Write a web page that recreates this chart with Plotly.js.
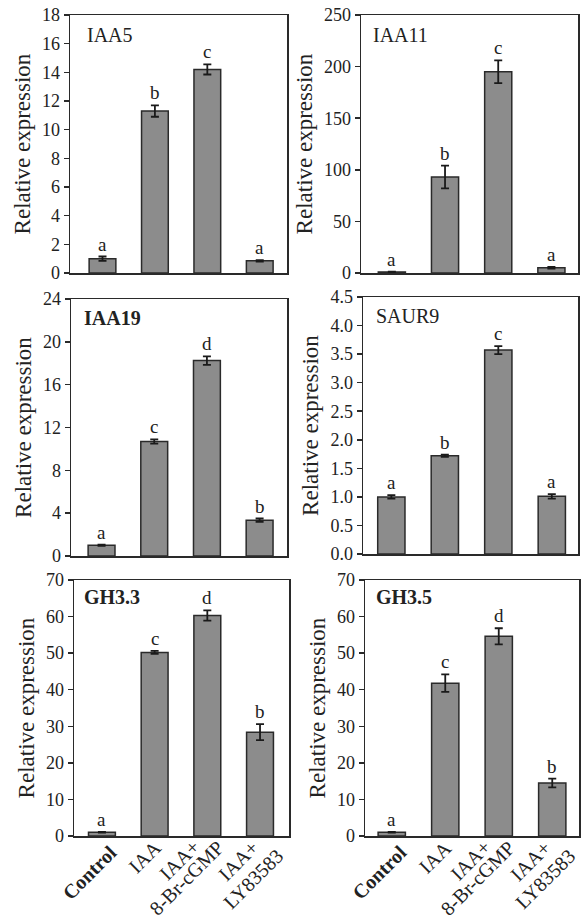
<!DOCTYPE html>
<html>
<head>
<meta charset="utf-8">
<script src="https://cdn.plot.ly/plotly-3.0.1.min.js"></script>
<style>html,body{margin:0;padding:0;background:#fff;}#chart{width:583px;height:922px;}</style>
</head>
<body>
<div id="chart"></div>
<script>
const categories = ["Control", "IAA", "IAA+ 8-Br-cGMP", "IAA+ LY83583"];
// tick labels, one list of text lines per category
const tickLabelLines = [["<b>Control</b>"], ["IAA"], ["IAA+", "8-Br-cGMP"], ["IAA+", "LY83583"]];

const genes = ["IAA5", "IAA11", "IAA19", "SAUR9", "GH3.3", "GH3.5"];
const IAA5_values = [1.0, 11.3, 14.2, 0.85];
const IAA5_errors = [0.15, 0.4, 0.35, 0.05];
const IAA5_letters = ["a", "b", "c", "a"];
const IAA11_values = [1.0, 93, 195, 5];
const IAA11_errors = [0.3, 11, 11, 0.8];
const IAA11_letters = ["a", "b", "c", "a"];
const IAA19_values = [1.0, 10.7, 18.25, 3.35];
const IAA19_errors = [0.05, 0.2, 0.4, 0.15];
const IAA19_letters = ["a", "c", "d", "b"];
const SAUR9_values = [1.0, 1.72, 3.57, 1.01];
const SAUR9_errors = [0.03, 0.02, 0.07, 0.04];
const SAUR9_letters = ["a", "b", "c", "a"];
const GH33_values = [1.0, 50.2, 60.3, 28.4];
const GH33_errors = [0.1, 0.4, 1.4, 2.2];
const GH33_letters = ["a", "c", "d", "b"];
const GH35_values = [1.0, 41.8, 54.6, 14.5];
const GH35_errors = [0.1, 2.4, 2.2, 1.2];
const GH35_letters = ["a", "c", "d", "b"];

const yMax = [18, 250, 24, 4.5, 70, 70];
const yDtick = [2, 50, 4, 0.5, 10, 10];

const W = 583, H = 922;
// pixel boxes [left, right, top, bottom]
const boxes = [
  [70, 287, 15, 273],
  [361, 578, 15, 273],
  [71, 287, 299, 556],
  [363, 578, 297, 554],
  [74, 289, 580, 836],
  [365, 579, 580, 836]
];
const xRanges = [
  [-0.62, 3.52], [-0.58, 3.5], [-0.58, 3.52], [-0.53, 3.49], [-0.53, 3.55], [-0.5, 3.5]
];
const geneLabelShift = [[15, -20], [10, -20], [11, -19], [11, -19], [8, -17], [9, -17]];
// pixel offsets of each tick-label line centre from its tick on the axis
const tickLineOffsets = [[[-12, 36]], [[-10, 21]], [[-28, 24], [-21, 42]], [[-22, 25], [-7, 43]]];

const series = [
  [IAA5_values, IAA5_errors, IAA5_letters],
  [IAA11_values, IAA11_errors, IAA11_letters],
  [IAA19_values, IAA19_errors, IAA19_letters],
  [SAUR9_values, SAUR9_errors, SAUR9_letters],
  [GH33_values, GH33_errors, GH33_letters],
  [GH35_values, GH35_errors, GH35_letters]
];
const boldLabel = [false, false, true, false, true, true];

const FONT = "Liberation Serif";
const INK = "#222";
const data = [];
const layout = {
  width: W, height: H,
  margin: {l: 0, r: 0, t: 0, b: 0},
  paper_bgcolor: "#fff", plot_bgcolor: "#fff",
  showlegend: false,
  font: {family: FONT, color: INK, size: 18},
  annotations: []
};

series.forEach((s, i) => {
  const n = i + 1;
  const xa = "x" + (n === 1 ? "" : n), ya = "y" + (n === 1 ? "" : n);
  const xk = "xaxis" + (n === 1 ? "" : n), yk = "yaxis" + (n === 1 ? "" : n);
  const b = boxes[i];
  data.push({
    type: "bar", x: [0, 1, 2, 3], y: s[0], xaxis: xa, yaxis: ya,
    width: 0.51, name: genes[i],
    marker: {color: "#8c8c8c", line: {color: "#2a2a2a", width: 1.5}},
    error_y: {type: "data", array: s[1], visible: true, color: "#1a1a1a", thickness: 1.8, width: 4}
  });
  layout[xk] = {
    domain: [b[0] / W, b[1] / W], range: xRanges[i], anchor: ya,
    tickmode: "array", tickvals: [0, 1, 2, 3], ticktext: categories,
    showticklabels: false, ticks: "",
    showline: true, linecolor: "#2a2a2a", linewidth: 1.5, mirror: true,
    showgrid: false, zeroline: false, fixedrange: true
  };
  layout[yk] = {
    domain: [1 - b[3] / H, 1 - b[2] / H], range: [0, yMax[i]], anchor: xa,
    dtick: yDtick[i], tick0: 0, tickformat: i === 3 ? ".1f" : "",
    ticks: "outside", ticklen: 5, tickwidth: 1.5, tickcolor: "#2a2a2a",
    tickfont: {family: FONT, size: 18, color: INK},
    showline: true, linecolor: "#2a2a2a", linewidth: 1.5, mirror: true,
    showgrid: false, zeroline: false, fixedrange: true,
    title: {text: "Relative expression", font: {family: FONT, size: 23, color: INK}, standoff: 5}
  };
  layout.annotations.push({
    xref: xa + " domain", yref: ya + " domain", x: 0, y: 1,
    xshift: geneLabelShift[i][0], yshift: geneLabelShift[i][1],
    xanchor: "left", yanchor: "middle", showarrow: false,
    text: boldLabel[i] ? "<b>" + genes[i] + "</b>" : genes[i],
    font: {family: FONT, size: 20, color: INK}
  });
  s[2].forEach((letter, j) => {
    layout.annotations.push({
      xref: xa, yref: ya, x: j, y: s[0][j] + s[1][j],
      xanchor: "center", yanchor: "bottom", yshift: 0, showarrow: false,
      text: letter, font: {family: FONT, size: 19, color: INK}
    });
  });
  if (i >= 4) {
    tickLabelLines.forEach((lines, j) => {
      lines.forEach((line, k) => {
        layout.annotations.push({
          xref: xa, yref: ya + " domain", x: j, y: 0,
          xanchor: "center", yanchor: "middle",
          xshift: tickLineOffsets[j][k][0], yshift: -tickLineOffsets[j][k][1],
          textangle: -45, showarrow: false,
          text: line, font: {family: FONT, size: 20, color: INK}
        });
      });
    });
  }
});

Plotly.newPlot("chart", data, layout, {staticPlot: true});
</script>
</body>
</html>
